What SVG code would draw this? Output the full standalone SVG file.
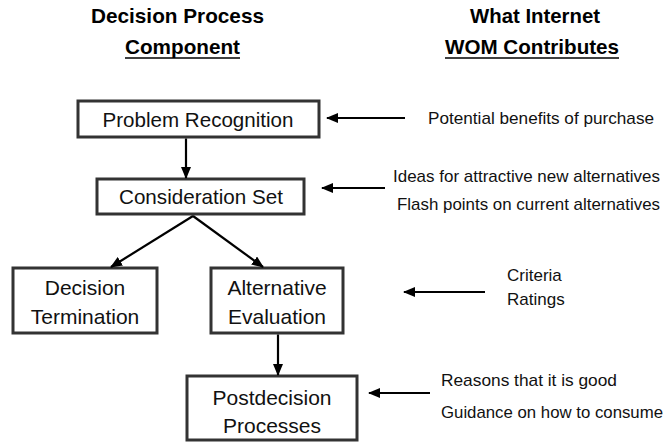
<svg xmlns="http://www.w3.org/2000/svg" width="669" height="442" viewBox="0 0 669 442">
<style>
.box{fill:#fff;stroke:#333;stroke-width:3}
.bt{font-family:"Liberation Sans",Arial,sans-serif;font-size:21px;fill:#111;text-anchor:middle}
.hd{font-family:"Liberation Sans",Arial,sans-serif;font-size:21px;font-weight:bold;fill:#000}
.rt{font-family:"Liberation Sans",Arial,sans-serif;font-size:17px;fill:#111}
.con{stroke:#000;stroke-width:2.2;fill:none}
</style>
<defs>
<marker id="ah" markerUnits="userSpaceOnUse" markerWidth="12" markerHeight="10" refX="11" refY="5" orient="auto">
<path d="M0,0 L12,5 L0,10 z" fill="#000"/>
</marker>
</defs>
<rect width="669" height="442" fill="#fff"/>
<g id="headers">
<text class="hd" x="91" y="23" textLength="173" lengthAdjust="spacingAndGlyphs">Decision Process</text>
<text class="hd" x="125" y="54" textLength="115" lengthAdjust="spacingAndGlyphs">Component</text>
<line x1="125" y1="58" x2="240" y2="58" stroke="#000" stroke-width="1.6"/>
<text class="hd" x="470" y="23" textLength="130" lengthAdjust="spacingAndGlyphs">What Internet</text>
<text class="hd" x="445" y="54" textLength="174" lengthAdjust="spacingAndGlyphs">WOM Contributes</text>
<line x1="445" y1="58" x2="619" y2="58" stroke="#000" stroke-width="1.6"/>
</g>
<g id="problem-recognition">
<rect class="box" x="78" y="101" width="241" height="36"/>
<text class="bt" x="198" y="127" textLength="191" lengthAdjust="spacingAndGlyphs">Problem Recognition</text>
</g>
<g id="consideration-set">
<rect class="box" x="97" y="179" width="207" height="35"/>
<text class="bt" x="201" y="204" textLength="164" lengthAdjust="spacingAndGlyphs">Consideration Set</text>
</g>
<g id="decision-termination">
<rect class="box" x="13" y="268" width="144" height="65"/>
<text class="bt" x="85" y="295">Decision</text>
<text class="bt" x="85" y="324">Termination</text>
</g>
<g id="alternative-evaluation">
<rect class="box" x="211" y="268" width="132" height="65"/>
<text class="bt" x="277" y="295">Alternative</text>
<text class="bt" x="277" y="324">Evaluation</text>
</g>
<g id="postdecision-processes">
<rect class="box" x="187" y="376" width="170" height="64"/>
<text class="bt" x="272" y="405">Postdecision</text>
<text class="bt" x="272" y="433">Processes</text>
</g>
<g id="contributions">
<text class="rt" x="428" y="124" textLength="226" lengthAdjust="spacingAndGlyphs">Potential benefits of purchase</text>
<text class="rt" x="393" y="182" textLength="267" lengthAdjust="spacingAndGlyphs">Ideas for attractive new alternatives</text>
<text class="rt" x="397" y="210" textLength="263" lengthAdjust="spacingAndGlyphs">Flash points on current alternatives</text>
<text class="rt" x="507" y="281">Criteria</text>
<text class="rt" x="507" y="305">Ratings</text>
<text class="rt" x="441" y="386" textLength="176" lengthAdjust="spacingAndGlyphs">Reasons that it is good</text>
<text class="rt" x="441" y="418" textLength="222" lengthAdjust="spacingAndGlyphs">Guidance on how to consume</text>
</g>
<g id="connectors">
<line class="con" x1="186" y1="138.5" x2="186" y2="178" marker-end="url(#ah)"/>
<line class="con" x1="193" y1="216" x2="111" y2="267" marker-end="url(#ah)"/>
<line class="con" x1="193" y1="216" x2="263" y2="267" marker-end="url(#ah)"/>
<line class="con" x1="278" y1="334.5" x2="278" y2="375" marker-end="url(#ah)"/>
<line class="con" x1="405" y1="118" x2="327" y2="118" marker-end="url(#ah)"/>
<line class="con" x1="385" y1="188" x2="322" y2="188" marker-end="url(#ah)"/>
<line class="con" x1="485" y1="292" x2="404" y2="292" marker-end="url(#ah)"/>
<line class="con" x1="430" y1="393" x2="369" y2="393" marker-end="url(#ah)"/>
</g>
</svg>
